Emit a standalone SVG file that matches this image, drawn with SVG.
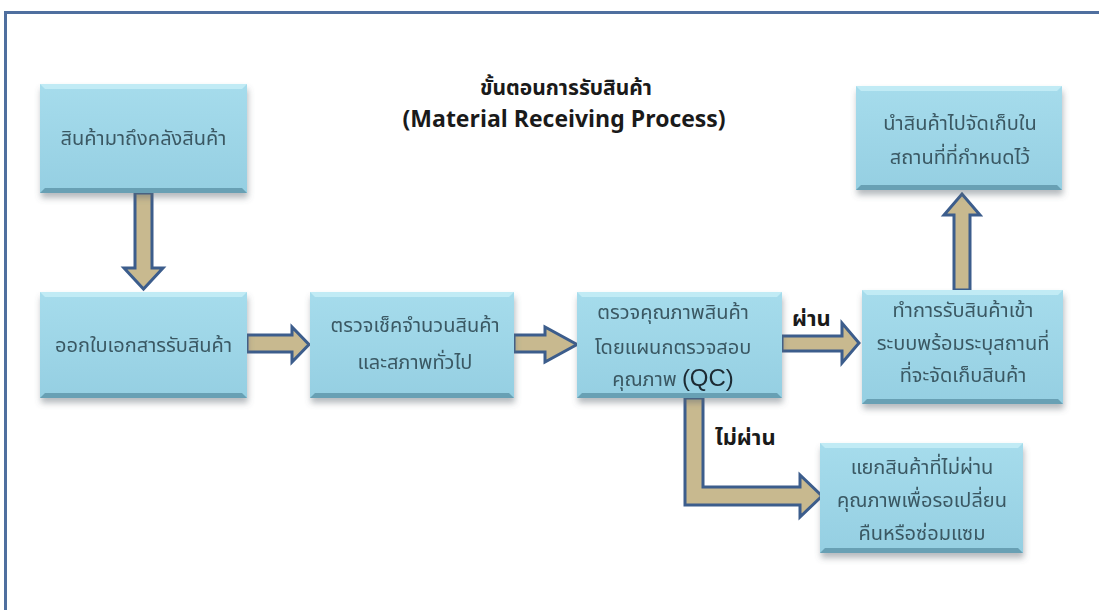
<svg xmlns="http://www.w3.org/2000/svg" width="1099" height="610" viewBox="0 0 1099 610">
  <defs>
    <filter id="shadow" x="-10%" y="-10%" width="125%" height="135%">
      <feDropShadow dx="1" dy="5" stdDeviation="3" flood-color="#5a6670" flood-opacity="0.45"/>
    </filter>
    <linearGradient id="boxFill" x1="0" y1="0" x2="0" y2="1">
      <stop offset="0" stop-color="#a6dcec"/>
      <stop offset="1" stop-color="#95cfe2"/>
    </linearGradient>
    <style>
      .frame { fill: none; stroke: #4f6f9f; stroke-width: 3; }
      .box { fill: url(#boxFill); }
      .hi { fill: #c4ecf6; opacity: 0.9; }
      .lo { fill: #5f98ab; opacity: 0.85; }
      .txt { font-family: "Noto Sans Thai", "Noto Sans", "Liberation Sans", sans-serif; font-size: 20px; fill: #3a5863; text-anchor: middle; }
      .qc { font-family: "Liberation Sans", sans-serif; font-size: 24px; fill: #1c2a33; }
      .title { font-family: "Noto Sans Thai", "Noto Sans", "Liberation Sans", sans-serif; font-weight: bold; fill: #1a1a1a; text-anchor: middle; }
      .lbl { font-family: "Noto Sans Thai", "Noto Sans", "Liberation Sans", sans-serif; font-weight: bold; font-size: 22px; fill: #1a1a1a; }
      .arrow { fill: #c8b98f; stroke: #3c5d8c; stroke-width: 3; stroke-linejoin: miter; }
    </style>
  </defs>

  <rect width="1099" height="610" fill="#ffffff"/>
  <!-- page frame: top and left edges -->
  <path class="frame" d="M5.5 610 V12.5 H1099"/>

  <!-- title -->
  <g id="title">
    <text class="title" x="566" y="95" font-size="21">ขั้นตอนการรับสินค้า</text>
    <text class="title" x="564" y="127" font-size="23">(Material Receiving Process)</text>
  </g>

  <!-- connectors -->
  <g id="connectors">
    <polygon class="arrow" points="135,193 152,193 152,268 163,268 143.5,289 124,268 135,268"/>
    <polygon class="arrow" points="247,335 292,335 292,327 309,344.5 292,362 292,352 247,352"/>
    <polygon class="arrow" points="514,335 545,335 545,327 577,344.5 545,362 545,352 514,352"/>
    <polygon class="arrow" points="782,336 842,336 842,323 859,343 842,363 842,351 782,351"/>
    <polygon class="arrow" points="954,290 970,290 970,215 980,215 962,194 944,215 954,215"/>
    <polygon class="arrow" points="685,398 703,398 703,487 800,487 800,475 822,496 800,517 800,505 685,505"/>
    <text class="lbl" x="792" y="326">ผ่าน</text>
    <text class="lbl" x="715" y="445">ไม่ผ่าน</text>
  </g>

  <!-- process boxes -->
  <g id="n1" filter="url(#shadow)">
    <rect class="box" x="40" y="84" width="207" height="109"/>
    <polygon class="hi" points="40,84 247,84 242,89 45,89"/>
    <polygon class="lo" points="40,193 247,193 242,188 45,188"/>
    <text class="txt" x="143.5" y="145">สินค้ามาถึงคลังสินค้า</text>
  </g>

  <g id="n2" filter="url(#shadow)">
    <rect class="box" x="40" y="292" width="207" height="106"/>
    <polygon class="hi" points="40,292 247,292 242,297 45,297"/>
    <polygon class="lo" points="40,398 247,398 242,393 45,393"/>
    <text class="txt" x="143.5" y="352">ออกใบเอกสารรับสินค้า</text>
  </g>

  <g id="n3" filter="url(#shadow)">
    <rect class="box" x="310" y="292" width="204" height="106"/>
    <polygon class="hi" points="310,292 514,292 509,297 315,297"/>
    <polygon class="lo" points="310,398 514,398 509,393 315,393"/>
    <text class="txt" x="415" y="332">ตรวจเช็คจำนวนสินค้า</text>
    <text class="txt" x="415" y="369">และสภาพทั่วไป</text>
  </g>

  <g id="n4" filter="url(#shadow)">
    <rect class="box" x="577" y="292" width="205" height="106"/>
    <polygon class="hi" points="577,292 782,292 777,297 582,297"/>
    <polygon class="lo" points="577,398 782,398 777,393 582,393"/>
    <text class="txt" x="673" y="319">ตรวจคุณภาพสินค้า</text>
    <text class="txt" x="673" y="354">โดยแผนกตรวจสอบ</text>
    <text class="txt" x="673" y="386">คุณภาพ <tspan class="qc">(QC)</tspan></text>
  </g>

  <g id="n5" filter="url(#shadow)">
    <rect class="box" x="862" y="290" width="201" height="114"/>
    <polygon class="hi" points="862,290 1063,290 1058,295 867,295"/>
    <polygon class="lo" points="862,404 1063,404 1058,399 867,399"/>
    <text class="txt" x="963" y="317">ทำการรับสินค้าเข้า</text>
    <text class="txt" x="963" y="350">ระบบพร้อมระบุสถานที่</text>
    <text class="txt" x="963" y="382">ที่จะจัดเก็บสินค้า</text>
  </g>

  <g id="n6" filter="url(#shadow)">
    <rect class="box" x="856" y="86" width="206" height="104"/>
    <polygon class="hi" points="856,86 1062,86 1057,91 861,91"/>
    <polygon class="lo" points="856,190 1062,190 1057,185 861,185"/>
    <text class="txt" x="960" y="130">นำสินค้าไปจัดเก็บใน</text>
    <text class="txt" x="960" y="164">สถานที่ที่กำหนดไว้</text>
  </g>

  <g id="n7" filter="url(#shadow)">
    <rect class="box" x="820" y="443" width="203" height="110"/>
    <polygon class="hi" points="820,443 1023,443 1018,448 825,448"/>
    <polygon class="lo" points="820,553 1023,553 1018,548 825,548"/>
    <text class="txt" x="922" y="474">แยกสินค้าที่ไม่ผ่าน</text>
    <text class="txt" x="922" y="507">คุณภาพเพื่อรอเปลี่ยน</text>
    <text class="txt" x="922" y="540">คืนหรือซ่อมแซม</text>
  </g>
</svg>
